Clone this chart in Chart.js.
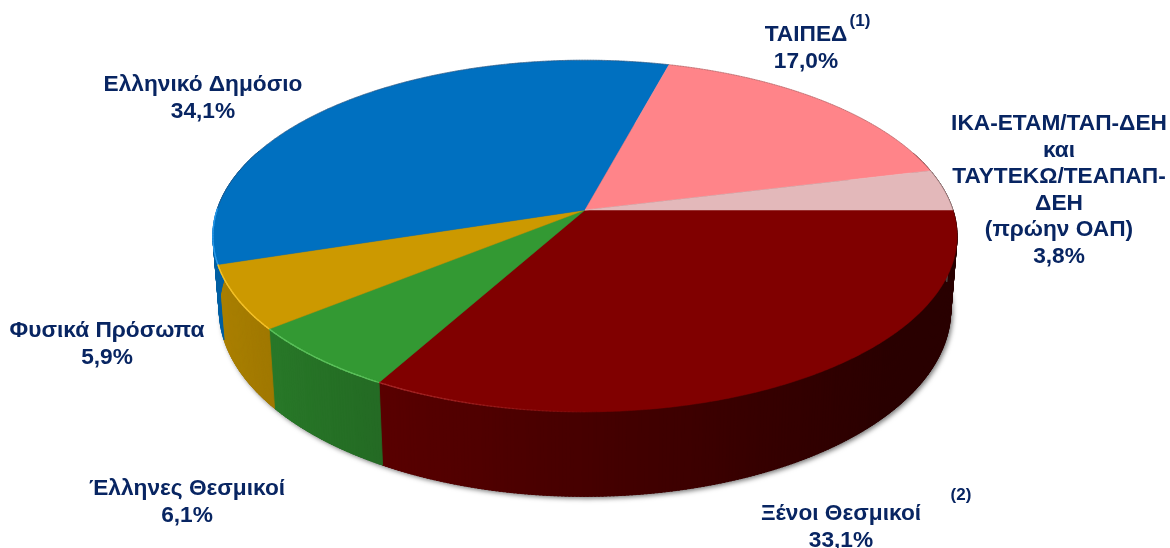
<!DOCTYPE html>
<html>
<head>
<meta charset="utf-8">
<style>
body { margin: 0; background: #fff; }
</style>
<script src="https://cdn.jsdelivr.net/npm/chart.js@4"></script>
</head>
<body>
<canvas id="piechart" width="1170" height="548"></canvas>
<script>
// slices run clockwise from 3 o'clock
var categories = ["Ξένοι Θεσμικοί", "Έλληνες Θεσμικοί", "Φυσικά Πρόσωπα", "Ελληνικό Δημόσιο", "ΤΑΙΠΕΔ", "ΙΚΑ-ΕΤΑΜ/ΤΑΠ-ΔΕΗ και ΤΑΥΤΕΚΩ/ΤΕΑΠΑΠ-ΔΕΗ (πρώην ΟΑΠ)"];
var shares = [33.1, 6.1, 5.9, 34.1, 17.0, 3.8];
var sliceColors = [[128, 0, 0], [51, 153, 51], [204, 153, 0], [0, 112, 192], [255, 132, 137], [227, 184, 186]];

// label lines, the share is added as the last line
var labelLines = [
  ["Ξένοι Θεσμικοί"],
  ["Έλληνες Θεσμικοί"],
  ["Φυσικά Πρόσωπα"],
  ["Ελληνικό Δημόσιο"],
  ["ΤΑΙΠΕΔ"],
  ["ΙΚΑ-ΕΤΑΜ/ΤΑΠ-ΔΕΗ", "και", "ΤΑΥΤΕΚΩ/ΤΕΑΠΑΠ-", "ΔΕΗ", "(πρώην ΟΑΠ)"]
];
var labelPos = [[841, 514], [187, 489], [107, 331], [203, 85], [806, 35], [1059, 124]];
var notes = [["(1)", 860, 21], ["(2)", 961, 495]];

// perspective of the pie top and the lower rim
var apexX = 585, apexY = 210, spanX = 368, spanY = 172, tilt = 0.148, depth = 72, shrink = 0.983;

function project(angle, lower) {
  var c = Math.cos(angle), s = Math.sin(angle), w = 1 - tilt * s;
  var x = spanX * c / w, y = spanY * s / w;
  if (lower) return [apexX + x * shrink, apexY + y + depth / w];
  return [apexX + x, apexY + y];
}

function rgb(c, f) {
  return "rgb(" + Math.round(c[0] * f) + "," + Math.round(c[1] * f) + "," + Math.round(c[2] * f) + ")";
}

var pie3d = {
  id: "pie3d",
  beforeDatasetsDraw: function(chart) {
    var ctx = chart.ctx, arcs = chart.getDatasetMeta(0).data, a, p;
    var step = Math.PI / 360;

    // soft shadow under the whole pie
    ctx.save();
    ctx.shadowColor = "rgba(0,0,0,0.55)";
    ctx.shadowBlur = 5;
    ctx.shadowOffsetX = 2;
    ctx.shadowOffsetY = 2;
    ctx.fillStyle = "#444";
    ctx.beginPath();
    for (a = 0; a < Math.PI * 2; a += step) {
      p = project(a, true);
      ctx.lineTo(p[0], p[1]);
    }
    ctx.closePath();
    ctx.fill();
    ctx.restore();

    // side wall, strip by strip, left is lit and right is dark
    arcs.forEach(function(arc, idx) {
      for (a = arc.startAngle; a < arc.endAngle; a += step) {
        var t1 = Math.min(a + step * 1.5, arc.endAngle);
        if (Math.sin(a) < -0.35) continue;
        var f = Math.max(0.33, 0.55 - 0.3 * Math.cos(a));
        var p0 = project(a), p1 = project(t1), q1 = project(t1, true), q0 = project(a, true);
        ctx.fillStyle = ctx.strokeStyle = rgb(sliceColors[idx], f);
        ctx.lineWidth = 0.8;
        ctx.beginPath();
        ctx.moveTo(p0[0], p0[1]);
        ctx.lineTo(p1[0], p1[1]);
        ctx.lineTo(q1[0], q1[1]);
        ctx.lineTo(q0[0], q0[1]);
        ctx.closePath();
        ctx.fill();
        ctx.stroke();
      }
    });

    // top faces
    arcs.forEach(function(arc, idx) {
      ctx.fillStyle = rgb(sliceColors[idx], 1);
      ctx.strokeStyle = rgb(sliceColors[idx], 1);
      ctx.lineWidth = 0.5;
      ctx.beginPath();
      ctx.moveTo(apexX, apexY);
      for (a = arc.startAngle; a < arc.endAngle; a += step) {
        p = project(a);
        ctx.lineTo(p[0], p[1]);
      }
      p = project(arc.endAngle);
      ctx.lineTo(p[0], p[1]);
      ctx.closePath();
      ctx.fill();
      ctx.stroke();
    });

    // thin bevel along the rim
    arcs.forEach(function(arc, idx) {
      var c = sliceColors[idx];
      for (a = arc.startAngle; a < arc.endAngle; a += step) {
        var cos = Math.cos(a), sin = Math.sin(a), alpha;
        var p0 = project(a), p1 = project(Math.min(a + step * 1.5, arc.endAngle));
        ctx.beginPath();
        ctx.moveTo(p0[0], p0[1]);
        ctx.lineTo(p1[0], p1[1]);
        if (sin > 0) {
          alpha = Math.max(0, Math.min(1, 0.1 - cos * 1.6));
          ctx.strokeStyle = "rgba(" + Math.min(255, c[0] + 40) + "," + Math.min(255, c[1] + 40) + "," + Math.min(255, c[2] + 40) + "," + alpha + ")";
          ctx.lineWidth = 1.3;
        } else {
          ctx.strokeStyle = "rgba(90,60,60,0.22)";
          ctx.lineWidth = 1;
        }
        ctx.stroke();
      }
    });
    return false;
  },
  afterDraw: function(chart) {
    var ctx = chart.ctx;
    ctx.save();
    ctx.fillStyle = "#082562";
    ctx.textAlign = "center";
    ctx.textBaseline = "middle";
    ctx.font = "bold 22.7px 'Liberation Sans', Arial, sans-serif";
    labelLines.forEach(function(lines, i) {
      var all = lines.concat([shares[i].toFixed(1).replace(".", ",") + "%"]);
      all.forEach(function(t, j) {
        ctx.fillText(t, labelPos[i][0], labelPos[i][1] + j * 26.5);
      });
    });
    ctx.font = "bold 17px 'Liberation Sans', Arial, sans-serif";
    notes.forEach(function(n) {
      ctx.fillText(n[0], n[1], n[2]);
    });
    ctx.restore();
  }
};

var ctx = document.getElementById("piechart");
var myChart = new Chart(ctx, {
  type: "pie",
  data: {
    labels: categories,
    datasets: [{ data: shares }]
  },
  options: {
    responsive: false,
    animation: false,
    rotation: 90,
    devicePixelRatio: 1,
    plugins: {
      legend: { display: false },
      tooltip: { enabled: false }
    }
  },
  plugins: [pie3d]
});
</script>
</body>
</html>
